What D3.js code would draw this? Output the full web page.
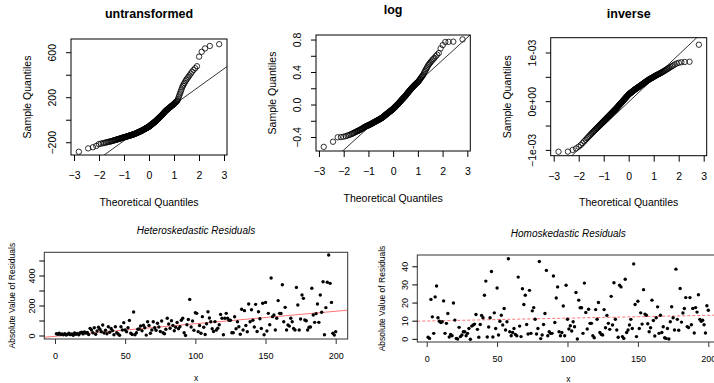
<!DOCTYPE html>
<html>
<head>
<meta charset="utf-8">
<script src="https://cdn.jsdelivr.net/npm/d3@7"></script>
<style>
  body { margin: 0; background: #fff; }
  svg { display: block; font-family: "Liberation Sans", Arial, sans-serif; }
</style>
</head>
<body>
<svg id="chart" width="714" height="383"></svg>
<script>
// sorted sample quantiles (n = 200)
const untransformed = [
  -280, -250, -240, -228, -212, -208, -204, -201, -198, -195,
  -192, -190, -188, -186, -183, -181, -178, -176, -174, -172,
  -170, -168, -167, -165, -163, -161, -160, -158, -157, -155,
  -154, -152, -151, -150, -148, -147, -146, -144, -143, -142,
  -141, -139, -138, -137, -136, -135, -134, -132, -131, -130,
  -129, -128, -126, -125, -124, -123, -121, -120, -119, -118,
  -116, -115, -114, -112, -111, -109, -108, -106, -105, -103,
  -102, -101, -99, -98, -96, -95, -94, -92, -91, -89,
  -88, -86, -85, -83, -81, -80, -78, -77, -75, -74,
  -72, -70, -69, -67, -66, -64, -63, -61, -59, -58,
  -56, -54, -51, -49, -47, -45, -42, -40, -38, -35,
  -33, -31, -29, -26, -24, -22, -19, -17, -15, -12,
  -10, -7, -4, -1, 2, 4, 7, 10, 13, 16,
  19, 22, 25, 28, 31, 34, 37, 40, 43, 46,
  50, 53, 57, 60, 64, 68, 71, 75, 79, 83,
  86, 89, 92, 95, 98, 101, 104, 108, 111, 114,
  117, 121, 124, 128, 131, 135, 138, 142, 146, 151,
  155, 160, 165, 170, 175, 189, 205, 221, 238, 254,
  272, 291, 306, 319, 332, 347, 360, 372, 385, 399,
  415, 431, 447, 462, 480, 565, 608, 638, 660, 676
];
const logValues = [
  -0.515, -0.452, -0.397, -0.395, -0.390, -0.383, -0.376, -0.369, -0.362, -0.355,
  -0.348, -0.341, -0.333, -0.328, -0.323, -0.318, -0.313, -0.308, -0.303, -0.298,
  -0.293, -0.288, -0.283, -0.278, -0.273, -0.268, -0.265, -0.262, -0.259, -0.256,
  -0.253, -0.250, -0.247, -0.244, -0.241, -0.238, -0.235, -0.232, -0.229, -0.226,
  -0.223, -0.220, -0.217, -0.214, -0.211, -0.208, -0.205, -0.202, -0.200, -0.197,
  -0.195, -0.192, -0.190, -0.187, -0.185, -0.182, -0.180, -0.177, -0.175, -0.172,
  -0.170, -0.167, -0.165, -0.162, -0.160, -0.157, -0.153, -0.150, -0.147, -0.143,
  -0.140, -0.137, -0.133, -0.130, -0.127, -0.123, -0.120, -0.117, -0.113, -0.110,
  -0.107, -0.104, -0.101, -0.098, -0.095, -0.092, -0.089, -0.086, -0.083, -0.080,
  -0.077, -0.074, -0.071, -0.068, -0.065, -0.062, -0.059, -0.056, -0.053, -0.050,
  -0.046, -0.042, -0.038, -0.034, -0.030, -0.027, -0.023, -0.019, -0.015, -0.011,
  -0.007, -0.003, 0.001, 0.005, 0.009, 0.012, 0.016, 0.020, 0.025, 0.029,
  0.034, 0.038, 0.043, 0.047, 0.052, 0.056, 0.061, 0.065, 0.070, 0.074,
  0.079, 0.083, 0.088, 0.092, 0.097, 0.101, 0.106, 0.110, 0.116, 0.121,
  0.127, 0.132, 0.138, 0.144, 0.149, 0.155, 0.160, 0.166, 0.172, 0.177,
  0.183, 0.188, 0.194, 0.199, 0.205, 0.211, 0.216, 0.222, 0.228, 0.233,
  0.239, 0.245, 0.250, 0.256, 0.262, 0.267, 0.273, 0.279, 0.284, 0.290,
  0.300, 0.310, 0.320, 0.330, 0.340, 0.350, 0.360, 0.370, 0.387, 0.404,
  0.421, 0.438, 0.455, 0.472, 0.490, 0.505, 0.520, 0.535, 0.550, 0.565,
  0.580, 0.600, 0.620, 0.640, 0.697, 0.738, 0.776, 0.778, 0.780, 0.808
];
const inverseValues = [
  -1.027e-3, -1.025e-3, -0.990e-3, -0.960e-3, -0.925e-3, -0.890e-3, -0.850e-3, -0.814e-3, -0.782e-3, -0.753e-3,
  -0.727e-3, -0.702e-3, -0.679e-3, -0.657e-3, -0.638e-3, -0.619e-3, -0.602e-3, -0.585e-3, -0.569e-3, -0.554e-3,
  -0.539e-3, -0.525e-3, -0.511e-3, -0.498e-3, -0.485e-3, -0.472e-3, -0.460e-3, -0.448e-3, -0.436e-3, -0.424e-3,
  -0.414e-3, -0.403e-3, -0.392e-3, -0.381e-3, -0.371e-3, -0.361e-3, -0.351e-3, -0.341e-3, -0.331e-3, -0.322e-3,
  -0.313e-3, -0.304e-3, -0.295e-3, -0.286e-3, -0.277e-3, -0.268e-3, -0.260e-3, -0.251e-3, -0.243e-3, -0.235e-3,
  -0.226e-3, -0.219e-3, -0.210e-3, -0.202e-3, -0.195e-3, -0.187e-3, -0.179e-3, -0.172e-3, -0.164e-3, -0.157e-3,
  -0.149e-3, -0.142e-3, -0.134e-3, -0.126e-3, -0.117e-3, -0.109e-3, -0.101e-3, -0.093e-3, -0.085e-3, -0.077e-3,
  -0.070e-3, -0.062e-3, -0.054e-3, -0.047e-3, -0.039e-3, -0.032e-3, -0.024e-3, -0.016e-3, -0.009e-3, -0.001e-3,
  0.006e-3, 0.014e-3, 0.021e-3, 0.028e-3, 0.036e-3, 0.043e-3, 0.051e-3, 0.058e-3, 0.065e-3, 0.073e-3,
  0.080e-3, 0.088e-3, 0.095e-3, 0.102e-3, 0.110e-3, 0.118e-3, 0.124e-3, 0.132e-3, 0.139e-3, 0.147e-3,
  0.152e-3, 0.158e-3, 0.162e-3, 0.168e-3, 0.172e-3, 0.178e-3, 0.183e-3, 0.188e-3, 0.193e-3, 0.198e-3,
  0.203e-3, 0.208e-3, 0.213e-3, 0.218e-3, 0.224e-3, 0.229e-3, 0.234e-3, 0.239e-3, 0.244e-3, 0.249e-3,
  0.254e-3, 0.259e-3, 0.263e-3, 0.268e-3, 0.273e-3, 0.277e-3, 0.282e-3, 0.287e-3, 0.292e-3, 0.296e-3,
  0.301e-3, 0.306e-3, 0.311e-3, 0.316e-3, 0.321e-3, 0.326e-3, 0.331e-3, 0.336e-3, 0.341e-3, 0.346e-3,
  0.352e-3, 0.357e-3, 0.363e-3, 0.368e-3, 0.374e-3, 0.379e-3, 0.385e-3, 0.391e-3, 0.397e-3, 0.402e-3,
  0.408e-3, 0.414e-3, 0.420e-3, 0.427e-3, 0.433e-3, 0.439e-3, 0.445e-3, 0.450e-3, 0.456e-3, 0.461e-3,
  0.466e-3, 0.471e-3, 0.477e-3, 0.483e-3, 0.489e-3, 0.494e-3, 0.500e-3, 0.506e-3, 0.513e-3, 0.519e-3,
  0.526e-3, 0.532e-3, 0.538e-3, 0.545e-3, 0.551e-3, 0.558e-3, 0.564e-3, 0.571e-3, 0.578e-3, 0.586e-3,
  0.593e-3, 0.602e-3, 0.611e-3, 0.621e-3, 0.632e-3, 0.643e-3, 0.655e-3, 0.667e-3, 0.680e-3, 0.695e-3,
  0.710e-3, 0.727e-3, 0.745e-3, 0.766e-3, 0.785e-3, 0.800e-3, 0.810e-3, 0.815e-3, 0.820e-3, 1.170e-3
];
// qq reference lines: [intercept, slope]
const untransformedLine = [-22, 160];
const logLine = [0.0, 0.277];
const inverseLine = [-0.005e-3, 0.485e-3];

// absolute residuals, x = 1..200
const heteroResid = [
  15, 12, 18, 10, 14, 8, 16, 6, 12, 18, 9, 14, 5, 20, 11, 17, 8, 22, 25, 14,
  27, 19, 24, 10, 51, 40, 22, 55, 12, 33, 58, 45, 28, 73, 20, 38, 15, 62, 25, 50,
  36, 8, 62, 22, 14, 5, 62, 40, 89, 40, 28, 55, 104, 18, 10, 160, 8, 22, 45, 47,
  67, 35, 72, 55, 6, 95, 70, 18, 40, 95, 55, 38, 85, 60, 30, 100, 22, 15, 45, 118,
  80, 52, 102, 70, 35, 58, 90, 48, 62, 105, 118, 22, 4, 75, 110, 244, 60, 100, 38, 155,
  151, 29, 70, 18, 129, 58, 10, 82, 162, 120, 95, 48, 30, 96, 40, 52, 75, 144, 118, 8,
  118, 151, 118, 105, 105, 22, 22, 128, 48, 95, 62, 12, 178, 40, 169, 70, 28, 213, 95, 175,
  105, 60, 211, 30, 162, 115, 50, 218, 8, 224, 33, 151, 75, 387, 129, 140, 40, 118, 236, 151,
  150, 342, 95, 191, 40, 73, 66, 118, 95, 50, 40, 324, 207, 40, 113, 273, 251, 107, 102, 40,
  58, 60, 318, 140, 91, 149, 213, 91, 273, 158, 362, 8, 189, 358, 540, 351, 224, 18, 6, 29
];
const homoResid = [
  1.1, 0.5, 22, 12.4, 3.3, 23.4, 29.4, 11.9, 10, 9.3, 9.7, 21.2, 3.3, 8.8, 14.2, 1.3, 2.7, 2, 20, 10.6,
  0.5, 0.2, 6.6, 1.5, 2.4, 4.2, 4.2, 2, 3.3, 6, 0, 7.3, 7.9, 8.4, 13.7, 5.5, 1.1, 8.2, 13.2, 11.9,
  24.3, 32.1, 1.3, 6.8, 11.9, 37.4, 1.3, 14.6, 6, 28.3, 2.4, 10, 13.3, 7.9, 17, 5.1, 9.7, 44.4, 4.2, 2,
  3.8, 6, 2.7, 2, 34.3, 7.3, 1.5, 27.9, 19.2, 24.3, 8.2, 2.9, 27, 3.3, 15.7, 17.5, 11.1, 2.9, 6, 42.9,
  0.4, 2.4, 8.2, 14.2, 38, 2, 4.2, 3.3, 3.3, 34.9, 9.3, 22.8, 28.9, 4.2, 2, 3.8, 18.4, 2, 29.8, 11.1,
  5.7, 7.5, 4.6, 9.7, 6.9, 25.8, 0.2, 21.6, 17.4, 17.4, 3.3, 31, 14.8, 5.7, 16.6, 8.8, 8.8, 2, 0.9, 16.4,
  11.1, 20.3, 3.8, 2.7, 2.4, 16.4, 6.4, 13.2, 8.8, 5.5, 23.7, 7.9, 31.2, 11.1, 5.1, 1.1, 29.8, 28.9, 1.5, 0.5,
  33.1, 3.8, 5.1, 7.9, 11, 6, 41.6, 19.2, 1.5, 21, 6, 14.6, 8.4, 27.4, 13.9, 13.3, 8.6, 4.2, 6.4, 21.6,
  10.4, 1.8, 11.9, 17.9, 3.3, 13.3, 3.8, 6.9, 0.9, 0.5, 6, 0.2, 9.7, 18, 11.9, 5.1, 38.7, 11, 5, 28,
  9.5, 14.5, 17, 23, 7, 6.5, 23, 8, 17, 3.5, 17.5, 15, 24.6, 11, 10, 10.5, 8, 3.5, 18.5, 16
];
// fitted lines over the residuals: [intercept, slope]
const heteroFit = [-2, 0.835];
const homoFit = [10.1, 0.0157];

const qqXTicks = [-3, -2, -1, 0, 1, 2, 3];
const residXTicks = [0, 50, 100, 150, 200];

const svg = d3.select('#chart');

// inverse normal cdf (Acklam) for the theoretical quantiles
function qnorm(p) {
  const a = [-3.969683028665376e+01, 2.209460984245205e+02, -2.759285104469687e+02, 1.383577518672690e+02, -3.066479806614716e+01, 2.506628277459239e+00];
  const b = [-5.447609879822406e+01, 1.615858368580409e+02, -1.556989798598866e+02, 6.680131188771972e+01, -1.328068155288572e+01];
  const c = [-7.784894002430293e-03, -3.223964580411365e-01, -2.400758277161838e+00, -2.549732539343734e+00, 4.374664141464968e+00, 2.938163982698783e+00];
  const d = [7.784695709041462e-03, 3.224671290700398e-01, 2.445134137142996e+00, 3.754408661907416e+00];
  const lo = 0.02425;
  let q, r;
  if (p < lo) {
    q = Math.sqrt(-2 * Math.log(p));
    return (((((c[0] * q + c[1]) * q + c[2]) * q + c[3]) * q + c[4]) * q + c[5]) / ((((d[0] * q + d[1]) * q + d[2]) * q + d[3]) * q + 1);
  }
  if (p > 1 - lo) return -qnorm(1 - p);
  q = p - 0.5; r = q * q;
  return (((((a[0] * r + a[1]) * r + a[2]) * r + a[3]) * r + a[4]) * r + a[5]) * q / (((((b[0] * r + b[1]) * r + b[2]) * r + b[3]) * r + b[4]) * r + 1);
}

let clipId = 0;
function frame(box) {
  const id = 'clip' + (clipId++);
  svg.append('clipPath').attr('id', id).append('rect')
    .attr('x', box.left).attr('y', box.top)
    .attr('width', box.right - box.left).attr('height', box.bottom - box.top);
  return id;
}

function yTickLabels(g, y, box, ticks, labels, fmt, dx, size) {
  g.selectAll('.ytick').data(ticks).enter().append('line')
    .attr('x1', box.left).attr('x2', box.left - 5)
    .attr('y1', d => y(d)).attr('y2', d => y(d))
    .attr('stroke', '#000');
  g.selectAll('.ylab').data(labels).enter().append('text')
    .attr('transform', d => 'translate(' + (box.left - dx) + ',' + y(d) + ') rotate(-90)')
    .attr('text-anchor', 'middle').attr('dominant-baseline', 'central')
    .attr('font-size', size).text(fmt);
}

function qqPanel(cfg) {
  const box = cfg.box;
  const n = cfg.values.length;
  const theo = d3.range(n).map(i => qnorm((i + 0.5) / n));
  const x = d3.scaleLinear().domain(cfg.xDomain).range([box.left, box.right]);
  const y = d3.scaleLinear().domain(cfg.yDomain).range([box.bottom, box.top]);
  const g = svg.append('g');
  const clip = frame(box);

  g.append('g').attr('clip-path', 'url(#' + clip + ')')
    .selectAll('circle').data(cfg.values).enter().append('circle')
    .attr('cx', (d, i) => x(theo[i])).attr('cy', d => y(d)).attr('r', 2.7)
    .attr('fill', 'none').attr('stroke', '#000').attr('stroke-width', 0.8);

  const [b0, b1] = cfg.line;
  g.append('line').attr('clip-path', 'url(#' + clip + ')')
    .attr('x1', x(cfg.xDomain[0])).attr('y1', y(b0 + b1 * cfg.xDomain[0]))
    .attr('x2', x(cfg.xDomain[1])).attr('y2', y(b0 + b1 * cfg.xDomain[1]))
    .attr('stroke', '#000').attr('stroke-width', 0.8);

  g.append('rect').attr('x', box.left).attr('y', box.top)
    .attr('width', box.right - box.left).attr('height', box.bottom - box.top)
    .attr('fill', 'none').attr('stroke', '#000').attr('stroke-width', 1);

  const xa = g.append('g').attr('transform', 'translate(0,' + box.bottom + ')')
    .call(d3.axisBottom(x).tickValues(qqXTicks).tickSize(6).tickPadding(11).tickFormat(d3.format('d')));
  xa.select('.domain').remove();
  xa.selectAll('text').attr('font-size', 10.5).attr('font-family', null).attr('fill', '#000');
  xa.selectAll('line').attr('stroke', '#000');

  yTickLabels(g, y, box, cfg.yTicks, cfg.yLabels, cfg.yFormat, 19, 10.5);

  g.append('text').attr('x', (box.left + box.right) / 2).attr('y', cfg.titleY)
    .attr('text-anchor', 'middle').attr('dominant-baseline', 'central')
    .attr('font-weight', 'bold').attr('font-size', 12.5).text(cfg.title);
  g.append('text').attr('x', (box.left + box.right) / 2).attr('y', box.bottom + 46.5)
    .attr('text-anchor', 'middle').attr('dominant-baseline', 'central')
    .attr('font-size', 10.5).text('Theoretical Quantiles');
  g.append('text')
    .attr('transform', 'translate(' + (box.left - 44) + ',' + (box.top + box.bottom) / 2 + ') rotate(-90)')
    .attr('text-anchor', 'middle').attr('dominant-baseline', 'central')
    .attr('font-size', 10.5).text('Sample Quantiles');
}

function residPanel(cfg) {
  const box = cfg.box;
  const x = d3.scaleLinear().domain(cfg.xDomain).range([box.left, box.right]);
  const y = d3.scaleLinear().domain(cfg.yDomain).range([box.bottom, box.top]);
  const g = svg.append('g');
  const clip = frame(box);

  const [b0, b1] = cfg.fit;
  g.append('line').attr('clip-path', 'url(#' + clip + ')')
    .attr('x1', x(cfg.xDomain[0])).attr('y1', y(b0 + b1 * cfg.xDomain[0]))
    .attr('x2', x(cfg.xDomain[1])).attr('y2', y(b0 + b1 * cfg.xDomain[1]))
    .attr('stroke', '#ff5050').attr('stroke-opacity', 0.8).attr('stroke-width', 1)
    .attr('stroke-dasharray', cfg.dashed ? '3,2' : null);

  g.append('g').attr('clip-path', 'url(#' + clip + ')')
    .selectAll('circle').data(cfg.values).enter().append('circle')
    .attr('cx', (d, i) => x(i + 1)).attr('cy', d => y(d)).attr('r', 1.7)
    .attr('fill', '#000');

  g.append('rect').attr('x', box.left).attr('y', box.top)
    .attr('width', box.right - box.left).attr('height', box.bottom - box.top)
    .attr('fill', 'none').attr('stroke', '#333').attr('stroke-width', 1);

  const xa = g.append('g').attr('transform', 'translate(0,' + box.bottom + ')')
    .call(d3.axisBottom(x).tickValues(residXTicks).tickSize(5).tickPadding(9).tickFormat(d3.format('d')));
  xa.select('.domain').remove();
  xa.selectAll('text').attr('font-size', 9).attr('font-family', null).attr('fill', '#000');
  xa.selectAll('line').attr('stroke', '#333');

  yTickLabels(g, y, box, cfg.yTicks, cfg.yLabels, d3.format('d'), 12.5, 9);

  g.append('text').attr('x', cfg.titleX).attr('y', box.top - 22)
    .attr('text-anchor', 'middle').attr('dominant-baseline', 'central')
    .attr('font-style', 'italic').attr('font-size', 10).text(cfg.title);
  g.append('text').attr('x', cfg.titleX).attr('y', cfg.xlabY)
    .attr('text-anchor', 'middle').attr('dominant-baseline', 'central')
    .attr('font-size', 8.5).text('x');
  g.append('text')
    .attr('transform', 'translate(' + (box.left - cfg.ylabDx) + ',' + (box.top + box.bottom) / 2 + ') rotate(-90)')
    .attr('text-anchor', 'middle').attr('dominant-baseline', 'central')
    .attr('font-size', 8.5).text('Absolute Value of Residuals');
}

qqPanel({
  title: 'untransformed', values: untransformed, line: untransformedLine,
  box: { left: 71, right: 227, top: 39, bottom: 155 }, titleY: 14,
  xDomain: [-3.12, 3.12], yDomain: [-309, 722],
  yTicks: [-200, 0, 200, 400, 600], yLabels: [-200, 200, 600], yFormat: d3.format('d')
});
qqPanel({
  title: 'log', values: logValues, line: logLine,
  box: { left: 316, right: 470.3, top: 35, bottom: 151 }, titleY: 10,
  xDomain: [-3.12, 3.12], yDomain: [-0.566, 0.862],
  yTicks: [-0.4, -0.2, 0, 0.2, 0.4, 0.6, 0.8], yLabels: [-0.4, 0, 0.4, 0.8], yFormat: d3.format('.1f')
});
qqPanel({
  title: 'inverse', values: inverseValues, line: inverseLine,
  box: { left: 550.7, right: 706.7, top: 37.7, bottom: 155.7 }, titleY: 14,
  xDomain: [-3.12, 3.12], yDomain: [-1.109e-3, 1.314e-3],
  yTicks: [-1e-3, -5e-4, 0, 5e-4, 1e-3], yLabels: [-1e-3, 0, 1e-3],
  yFormat: d => d === 0 ? '0e+00' : (d < 0 ? '\u22121e-03' : '1e-03')
});

residPanel({
  title: 'Heteroskedastic Residuals', values: heteroResid, fit: heteroFit,
  box: { left: 44.3, right: 347.7, top: 252.3, bottom: 339 }, titleX: 196, xlabY: 377.5,
  xDomain: [-7.62, 208.55], yDomain: [-20, 558], ylabDx: 32.6,
  yTicks: [0, 100, 200, 300, 400, 500], yLabels: [0, 200, 400]
});
residPanel({
  title: 'Homoskedastic Residuals', values: homoResid, fit: homoFit, dashed: true,
  box: { left: 417.3, right: 719.5, top: 255, bottom: 342 }, titleX: 568.3, xlabY: 378.5,
  xDomain: [-6.68, 207.96], yDomain: [-1.48, 46.5], ylabDx: 35.6,
  yTicks: [0, 10, 20, 30, 40], yLabels: [0, 10, 20, 30, 40]
});
</script>
</body>
</html>
